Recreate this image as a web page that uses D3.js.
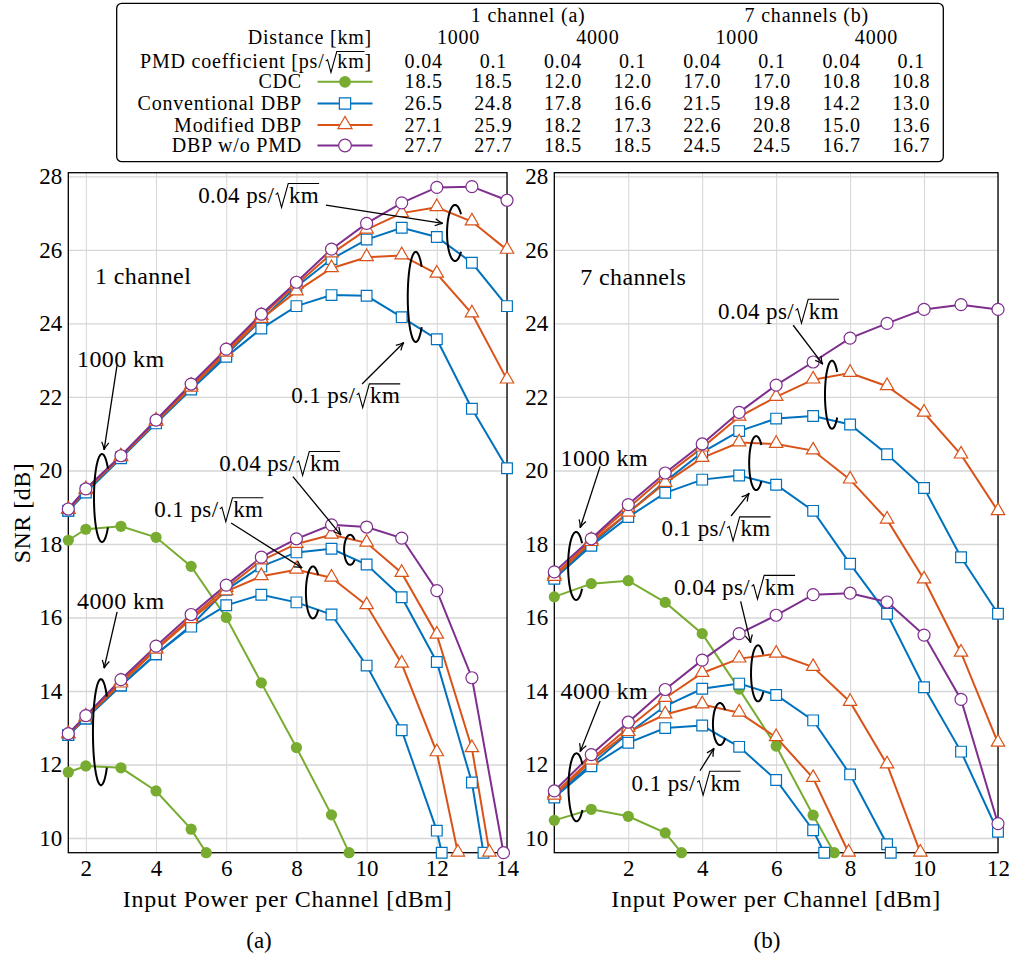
<!DOCTYPE html>
<html>
<head>
<meta charset="utf-8">
<script src="https://cdn.jsdelivr.net/npm/d3@7/dist/d3.min.js"></script>
<style>
  body { margin: 0; background: #fff; }
</style>
</head>
<body>
<svg id="chart" width="1013" height="960"></svg>
<script>
// ---- data ----
const xA = [1.5, 2, 3, 4, 5, 6, 7, 8, 9, 10, 11, 12, 13, 14]
const xB = [0, 1, 2, 3, 4, 5, 6, 7, 8, 9, 10, 11, 12]
const yTicks = [10, 12, 14, 16, 18, 20, 22, 24, 26, 28]
const xTicksA = [2, 4, 6, 8, 10, 12, 14]
const xTicksB = [2, 4, 6, 8, 10, 12]

// (a) 1 channel
const aCdc1000 = [18.1, 18.4, 18.48, 18.18, 17.39, 16.0, 14.22, 12.46, 10.63]
const aCdc1000End = [9.5, 9.6]
const aCdc4000 = [11.79, 11.96, 11.91, 11.28, 10.24]
const aCdc4000End = [5.43, 9.6]
const aConv1000p04 = [18.9, 19.45, 20.35, 21.3, 22.25, 23.15, 24.1, 25.0, 25.75, 26.28, 26.6, 26.35, 25.65, 24.47]
const aConv1000p1 = [18.9, 19.4, 20.33, 21.28, 22.2, 23.09, 23.86, 24.47, 24.77, 24.75, 24.17, 23.57, 21.68, 20.06]
const aMod1000p04 = [18.93, 19.48, 20.38, 21.35, 22.3, 23.25, 24.2, 25.05, 25.9, 26.55, 27.0, 27.16, 26.77, 26.0]
const aMod1000p1 = [18.92, 19.46, 20.36, 21.32, 22.25, 23.2, 24.12, 24.87, 25.5, 25.8, 25.85, 25.35, 24.27, 22.47]
const aDbp1000 = [18.95, 19.5, 20.4, 21.37, 22.35, 23.3, 24.25, 25.12, 26.02, 26.72, 27.28, 27.7, 27.72, 27.35]
const aConv4000p04 = [12.8, 13.25, 14.15, 15.0, 15.78, 16.75, 17.39, 17.77, 17.87, 17.44, 16.55, 14.79, 11.51]
const aConv4000p04End = [13.33, 9.6]
const aConv4000p1 = [12.8, 13.25, 14.15, 15.0, 15.75, 16.33, 16.62, 16.41, 16.08, 14.69, 12.93, 10.2]
const aConv4000p1End = [12.14, 9.6]
const aMod4000p04 = [12.82, 13.3, 14.25, 15.15, 16.0, 16.8, 17.55, 18.0, 18.25, 18.03, 17.21, 15.53, 12.44]
const aMod4000p04End = [13.5, 9.6]
const aMod4000p1 = [12.82, 13.28, 14.2, 15.12, 15.95, 16.71, 17.12, 17.3, 17.08, 16.33, 14.74, 12.33]
const aMod4000p1End = [12.6, 9.6]
const aDbp4000 = [12.84, 13.33, 14.31, 15.22, 16.08, 16.88, 17.64, 18.14, 18.52, 18.46, 18.16, 16.73, 14.36]
const aDbp4000End = [13.9, 9.6]

// (b) 7 channels
const bCdc1000 = [16.56, 16.92, 17.0, 16.41, 15.56, 14.05, 12.5, 10.62]
const bCdc1000End = [7.57, 9.6]
const bCdc4000 = [10.48, 10.78, 10.59, 10.14]
const bCdc4000End = [3.44, 9.6]
const bConv1000p04 = [17.1, 18.0, 18.85, 19.7, 20.49, 21.07, 21.41, 21.48, 21.25, 20.44, 19.52, 17.64, 16.1]
const bConv1000p1 = [17.05, 17.95, 18.73, 19.39, 19.75, 19.86, 19.61, 18.9, 17.46, 16.1, 14.1, 12.35, 10.17]
const bMod1000p04 = [17.15, 18.1, 18.98, 19.85, 20.62, 21.46, 22.0, 22.47, 22.65, 22.29, 21.57, 20.43, 18.89]
const bMod1000p1 = [17.1, 18.05, 18.85, 19.66, 20.34, 20.76, 20.72, 20.54, 19.75, 18.66, 17.03, 15.04, 12.59]
const bDbp1000 = [17.24, 18.14, 19.07, 19.93, 20.72, 21.58, 22.32, 22.95, 23.6, 24.0, 24.38, 24.51, 24.38]
const bConv4000p04 = [11.15, 12.0, 12.85, 13.59, 14.06, 14.2, 13.89, 13.2, 11.73, 9.83]
const bConv4000p04End = [9.1, 9.6]
const bConv4000p1 = [11.1, 11.95, 12.59, 12.99, 13.06, 12.48, 11.58, 10.21]
const bConv4000p1End = [7.3, 9.6]
const bMod4000p04 = [11.2, 12.15, 13.0, 13.81, 14.49, 14.88, 15.01, 14.65, 13.7, 12.0]
const bMod4000p04End = [9.9, 9.6]
const bMod4000p1 = [11.15, 12.1, 12.88, 13.36, 13.63, 13.41, 12.74, 11.63]
const bMod4000p1End = [7.96, 9.6]
const bDbp4000 = [11.28, 12.27, 13.15, 14.04, 14.84, 15.56, 16.06, 16.62, 16.66, 16.42, 15.52, 13.77, 10.39]

// legend table
const tableChannels = ["1 channel (a)", "7 channels (b)"]
const tableDistances = ["1000", "4000", "1000", "4000"]
const tablePmd = ["0.04", "0.1", "0.04", "0.1", "0.04", "0.1", "0.04", "0.1"]
const methods = ["CDC", "Conventional DBP", "Modified DBP", "DBP w/o PMD"]
const tableCdc = ["18.5", "18.5", "12.0", "12.0", "17.0", "17.0", "10.8", "10.8"]
const tableConv = ["26.5", "24.8", "17.8", "16.6", "21.5", "19.8", "14.2", "13.0"]
const tableMod = ["27.1", "25.9", "18.2", "17.3", "22.6", "20.8", "15.0", "13.6"]
const tableDbp = ["27.7", "27.7", "18.5", "18.5", "24.5", "24.5", "16.7", "16.7"]

// ---- styles ----
const styles = {
  cdc:  { color: "#77ac30", mark: "dot" },
  conv: { color: "#0072bd", mark: "square" },
  mod:  { color: "#d95319", mark: "triangle" },
  dbp:  { color: "#7e2f8e", mark: "circle" }
}
const methodKeys = ["cdc", "conv", "mod", "dbp"]
const FONT = "Liberation Serif, DejaVu Serif, Noto Serif, Tinos, FreeSerif, Nimbus Roman, Times, serif"

const pts = (xs, ys, end) => ys.map((y, i) => [xs[i], y]).concat(end ? [end] : [])

const seriesA = [
  ["cdc", pts(xA, aCdc1000, aCdc1000End)], ["cdc", pts(xA, aCdc4000, aCdc4000End)],
  ["conv", pts(xA, aConv1000p04)], ["conv", pts(xA, aConv1000p1)],
  ["conv", pts(xA, aConv4000p04, aConv4000p04End)], ["conv", pts(xA, aConv4000p1, aConv4000p1End)],
  ["mod", pts(xA, aMod1000p04)], ["mod", pts(xA, aMod1000p1)],
  ["mod", pts(xA, aMod4000p04, aMod4000p04End)], ["mod", pts(xA, aMod4000p1, aMod4000p1End)],
  ["dbp", pts(xA, aDbp1000)], ["dbp", pts(xA, aDbp4000, aDbp4000End)]
]
const seriesB = [
  ["cdc", pts(xB, bCdc1000, bCdc1000End)], ["cdc", pts(xB, bCdc4000, bCdc4000End)],
  ["conv", pts(xB, bConv1000p04)], ["conv", pts(xB, bConv1000p1)],
  ["conv", pts(xB, bConv4000p04, bConv4000p04End)], ["conv", pts(xB, bConv4000p1, bConv4000p1End)],
  ["mod", pts(xB, bMod1000p04)], ["mod", pts(xB, bMod1000p1)],
  ["mod", pts(xB, bMod4000p04, bMod4000p04End)], ["mod", pts(xB, bMod4000p1, bMod4000p1End)],
  ["dbp", pts(xB, bDbp1000)], ["dbp", pts(xB, bDbp4000)]
]

// annotations, in data coordinates (brace radii in px)
const notesA = [
  { kind: "text", at: [2.26, 25.07], text: "1 channel" },
  { kind: "text", at: [1.75, 22.81], text: "1000 km" },
  { kind: "arrow", from: [2.89, 22.87], to: [2.52, 20.56] },
  { kind: "brace", at: [2.46, 19.25], rx: 8, ry: 44 },
  { kind: "text", at: [1.75, 16.23], text: "4000 km" },
  { kind: "arrow", from: [2.89, 16.15], to: [2.52, 14.62] },
  { kind: "brace", at: [2.43, 12.88], rx: 8, ry: 53 },
  { kind: "pmd", at: [5.2, 27.28], text: "0.04 " },
  { kind: "arrow", from: [8.84, 27.22], to: [12.17, 26.72] },
  { kind: "brace", at: [12.52, 26.46], rx: 8, ry: 28 },
  { kind: "pmd", at: [7.85, 21.83], text: "0.1 " },
  { kind: "arrow", from: [9.87, 22.35], to: [11.06, 23.48] },
  { kind: "brace", at: [11.4, 24.72], rx: 8, ry: 45 },
  { kind: "pmd", at: [5.8, 19.99], text: "0.04 " },
  { kind: "arrow", from: [7.9, 19.83], to: [9.27, 18.24] },
  { kind: "brace", at: [9.53, 17.84], rx: 6, ry: 15 },
  { kind: "pmd", at: [3.95, 18.73], text: "0.1 " },
  { kind: "arrow", from: [6.14, 18.57], to: [8.16, 17.35] },
  { kind: "brace", at: [8.47, 16.68], rx: 7, ry: 26 }
]
const notesB = [
  { kind: "text", at: [0.7, 25.05], text: "7 channels" },
  { kind: "pmd", at: [4.43, 24.13], text: "0.04 " },
  { kind: "arrow", from: [6.46, 23.95], to: [7.26, 22.89] },
  { kind: "brace", at: [7.51, 22.06], rx: 7, ry: 34 },
  { kind: "text", at: [0.17, 20.13], text: "1000 km" },
  { kind: "arrow", from: [1.24, 20.11], to: [0.7, 18.44] },
  { kind: "brace", at: [0.59, 17.4], rx: 8, ry: 34 },
  { kind: "pmd", at: [2.9, 18.21], text: "0.1 " },
  { kind: "arrow", from: [4.78, 18.76], to: [5.27, 19.38] },
  { kind: "brace", at: [5.46, 20.2], rx: 7, ry: 27 },
  { kind: "pmd", at: [3.24, 16.62], text: "0.04 " },
  { kind: "arrow", from: [5.04, 16.44], to: [5.31, 15.31] },
  { kind: "brace", at: [5.51, 14.48], rx: 7, ry: 28 },
  { kind: "text", at: [0.17, 13.78], text: "4000 km" },
  { kind: "arrow", from: [1.24, 13.73], to: [0.7, 12.35] },
  { kind: "brace", at: [0.6, 11.38], rx: 8, ry: 34 },
  { kind: "pmd", at: [2.09, 11.29], text: "0.1 " },
  { kind: "arrow", from: [3.94, 11.83], to: [4.32, 12.44] },
  { kind: "brace", at: [4.48, 13.1], rx: 7, ry: 21 }
]

// ---- drawing ----
const svg = d3.select("#chart")
svg.append("rect").attr("width", 1013).attr("height", 960).attr("fill", "#fff")

svg.append("defs").append("marker")
  .attr("id", "arrow").attr("viewBox", "0 0 10 10")
  .attr("refX", 9.5).attr("refY", 5)
  .attr("markerWidth", 9).attr("markerHeight", 9)
  .attr("markerUnits", "userSpaceOnUse").attr("orient", "auto")
  .append("path").attr("d", "M1,1 Q6,4.2 9.5,5 Q6,5.8 1,9")
  .attr("fill", "none").attr("stroke", "#000").attr("stroke-width", 1.4)

const yScale = d3.scaleLinear().domain([9.6, 28.1]).range([852.7, 172.7])

function drawMark(g, key, x, y, scale = 1) {
  const s = styles[key]
  if (s.mark === "dot") {
    g.append("circle").attr("cx", x).attr("cy", y).attr("r", 5.6 * scale).attr("fill", s.color)
  } else if (s.mark === "circle") {
    g.append("circle").attr("cx", x).attr("cy", y).attr("r", 6 * scale)
      .attr("fill", "#fff").attr("stroke", s.color).attr("stroke-width", 1.2)
  } else {
    const type = s.mark === "square" ? d3.symbolSquare : d3.symbolTriangle
    const size = s.mark === "square" ? 115 : 78
    g.append("path").attr("d", d3.symbol().type(type).size(size * scale * scale)())
      .attr("transform", `translate(${x},${y + (s.mark === "triangle" ? -0.5 : 0)})`)
      .attr("fill", "#fff").attr("stroke", s.color).attr("stroke-width", 1.2)
  }
}

const addText = (parent, size, spacing) =>
  parent.append("text").attr("font-family", FONT).attr("font-size", size)
    .attr("letter-spacing", spacing).attr("fill", "#000")

// text with a drawn radical: before + sqrt(km) + after
function sqrtLabel(parent, x, y, before, after, size, spacing) {
  const g = parent.append("g")
  const t1 = addText(g, size, spacing).attr("x", 0).attr("y", 0).text(before)
  const w1 = t1.node().getComputedTextLength()
  const rw = 0.64 * size
  const t2 = addText(g, size, spacing).attr("x", w1 + rw).attr("y", 0).text("km")
  const w2 = t2.node().getComputedTextLength()
  const top = -0.84 * size
  g.append("path")
    .attr("d", `M${w1 + 0.06 * size},${-0.36 * size} L${w1 + 0.15 * size},${-0.43 * size} L${w1 + 0.32 * size},${0.2 * size} L${w1 + rw - 0.03 * size},${top} L${w1 + rw + w2},${top}`)
    .attr("fill", "none").attr("stroke", "#000").attr("stroke-width", 1.1)
  let w = w1 + rw + w2
  if (after) {
    const t3 = addText(g, size, spacing).attr("x", w).attr("y", 0).text(after)
    w += t3.node().getComputedTextLength()
  }
  g.attr("transform", `translate(${x},${y})`)
  return { g, w }
}

function brace(g, cx, cy, rx, ry) {
  const a = d3.range(42, 319, 4).map(d => d * Math.PI / 180)
  const line = d3.line().curve(d3.curveCatmullRom)
  g.append("path")
    .attr("d", line(a.map(t => [cx + rx * Math.cos(t), cy - ry * Math.sin(t)])))
    .attr("fill", "none").attr("stroke", "#000").attr("stroke-width", 2)
}

function panel(cfg) {
  const x = cfg.x
  const [x0, x1] = x.range()
  const [yb, yt] = yScale.range()
  const g = svg.append("g")

  // grid
  const gx = g.append("g").attr("transform", `translate(0,${yb})`)
    .call(d3.axisBottom(x).tickValues(cfg.ticks).tickSize(-(yb - yt)).tickFormat(""))
  const gy = g.append("g").attr("transform", `translate(${x0},0)`)
    .call(d3.axisLeft(yScale).tickValues(yTicks).tickSize(-(x1 - x0)).tickFormat(""))
  gx.select(".domain").remove()
  gy.select(".domain").remove()
  gx.selectAll("line").attr("stroke", "#d6d6d6").attr("stroke-width", 1)
  gy.selectAll("line").attr("stroke", "#d6d6d6").attr("stroke-width", 1.4)

  // tick labels
  const lx = g.append("g").attr("transform", `translate(0,${yb})`)
    .call(d3.axisBottom(x).tickValues(cfg.ticks).tickSize(0).tickPadding(7))
  const ly = g.append("g").attr("transform", `translate(${x0},0)`)
    .call(d3.axisLeft(yScale).tickValues(yTicks).tickSize(0).tickPadding(6))
  for (const a of [lx, ly]) {
    a.select(".domain").remove()
    a.attr("font-family", FONT).attr("font-size", 23)
  }

  // box
  g.append("rect").attr("x", x0).attr("y", yt).attr("width", x1 - x0).attr("height", yb - yt)
    .attr("fill", "none").attr("stroke", "#000").attr("stroke-width", 1.3)

  // series
  const line = d3.line().x(d => x(d[0])).y(d => yScale(d[1]))
  for (const [key, data] of cfg.series) {
    g.append("path").attr("d", line(data)).attr("fill", "none")
      .attr("stroke", styles[key].color).attr("stroke-width", 2)
  }
  for (const [key, data] of cfg.series) {
    const mg = g.append("g")
    data.forEach(d => drawMark(mg, key, x(d[0]), yScale(d[1])))
  }

  // annotations
  for (const n of cfg.notes) {
    if (n.kind === "text") {
      addText(g, 24, 0.4).attr("x", x(n.at[0])).attr("y", yScale(n.at[1])).text(n.text)
    } else if (n.kind === "pmd") {
      sqrtLabel(g, x(n.at[0]), yScale(n.at[1]), n.text + "ps/", "", 23, 0.4)
    } else if (n.kind === "arrow") {
      g.append("line")
        .attr("x1", x(n.from[0])).attr("y1", yScale(n.from[1]))
        .attr("x2", x(n.to[0])).attr("y2", yScale(n.to[1]))
        .attr("stroke", "#000").attr("stroke-width", 1.3).attr("marker-end", "url(#arrow)")
    } else if (n.kind === "brace") {
      brace(g, x(n.at[0]), yScale(n.at[1]), n.rx, n.ry)
    }
  }

  // axis title and sub caption
  addText(g, 24, 0.7).attr("x", (x0 + x1) / 2).attr("y", 907).attr("text-anchor", "middle")
    .text("Input Power per Channel [dBm]")
  addText(g, 23, 0).attr("x", cfg.captionX).attr("y", 948).attr("text-anchor", "middle")
    .text(cfg.caption)
}

panel({ x: d3.scaleLinear().domain([1.5, 14]).range([68.3, 507]), ticks: xTicksA,
  series: seriesA, notes: notesA, caption: "(a)", captionX: 259 })
panel({ x: d3.scaleLinear().domain([0, 12]).range([554.3, 998]), ticks: xTicksB,
  series: seriesB, notes: notesB, caption: "(b)", captionX: 767 })

addText(svg, 24, 0.5).attr("transform", "translate(30,513) rotate(-90)").attr("text-anchor", "middle")
  .text("SNR [dB]")

// ---- legend table ----
const lg = svg.append("g")
const fs = 20, ls = 0.8
lg.append("rect").attr("x", 116.7).attr("y", 3.3).attr("width", 826.6).attr("height", 158.4)
  .attr("rx", 5).attr("fill", "#fff").attr("stroke", "#000").attr("stroke-width", 1.3)

const col = d3.scaleLinear().domain([0, 7]).range([423.7, 911.3])
const cell = (xPos, yPos, txt, anchor = "middle") =>
  addText(lg, fs, ls).attr("x", xPos).attr("y", yPos).attr("text-anchor", anchor).text(txt)

tableChannels.forEach((t, i) => cell((col(4 * i) + col(4 * i + 3)) / 2, 21.7, t))
tableDistances.forEach((t, i) => cell((col(2 * i) + col(2 * i + 1)) / 2, 44, t))
cell(372, 44, "Distance [km]", "end")
const pmdHead = sqrtLabel(lg, 0, 68.3, "PMD coefficient [ps/", "]", fs, ls)
pmdHead.g.attr("transform", `translate(${372 - pmdHead.w},68.3)`)
tablePmd.forEach((t, i) => cell(col(i), 68.3, t))

const tableRows = [tableCdc, tableConv, tableMod, tableDbp]
const rowBase = [88.3, 110, 131.5, 152]
methods.forEach((m, r) => {
  const yb = rowBase[r]
  const ym = yb - 6.5
  const key = methodKeys[r]
  cell(302, yb, m, "end")
  lg.append("line").attr("x1", 317.5).attr("x2", 372.5).attr("y1", ym).attr("y2", ym)
    .attr("stroke", styles[key].color).attr("stroke-width", 2)
  drawMark(lg, key, 345, ym, 1.05)
  tableRows[r].forEach((v, i) => cell(col(i), yb, v))
})
</script>
</body>
</html>
